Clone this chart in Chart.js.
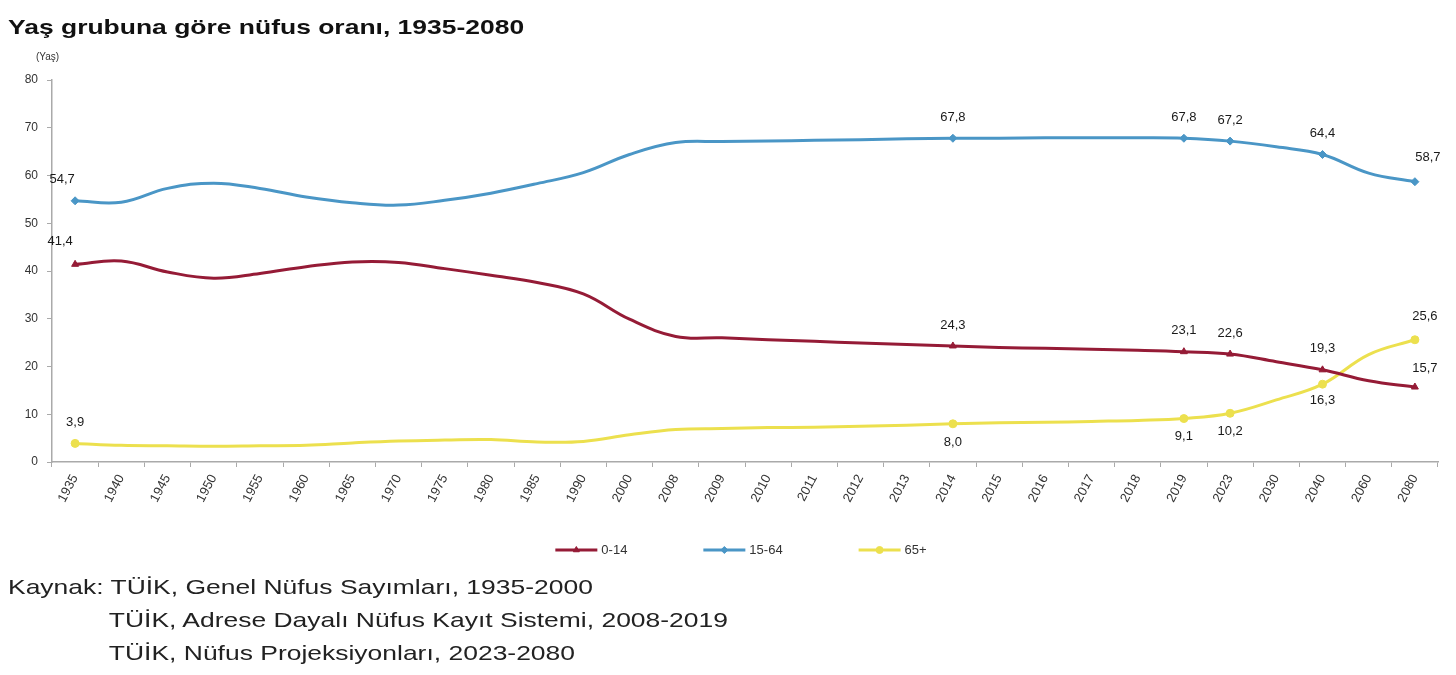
<!DOCTYPE html>
<html>
<head>
<meta charset="utf-8">
<script src="https://cdn.jsdelivr.net/npm/chart.js@4"></script>
<style>
    html, body { margin: 0; padding: 0; background: #fff; overflow: hidden; }
    body { width: 1456px; height: 675px; position: relative; font-family: "Liberation Sans", Arial, sans-serif; }
    #wrap { position: absolute; left: 0; top: 0; width: 1456px; height: 675px; }
    #title { position: absolute; left: 8px; top: 15px; font-size: 21px; font-weight: bold; color: #111; white-space: nowrap; transform: scaleX(1.26); transform-origin: left top; }
    #unit { position: absolute; left: 36px; top: 51px; font-size: 10px; color: #333; }
    #source { position: absolute; left: 8px; top: 570px; font-size: 21px; line-height: 33px; color: #222; white-space: nowrap; transform: scaleX(1.26); transform-origin: left top; }
    #source span { display: inline-block; width: 80px; }
</style>
</head>
<body>
<div id="wrap"><canvas id="chart"></canvas></div>
<div id="title">Yaş grubuna göre nüfus oranı, 1935-2080</div>
<div id="unit">(Yaş)</div>
<div id="source">Kaynak: TÜİK, Genel Nüfus Sayımları, 1935-2000<br><span></span>TÜİK, Adrese Dayalı Nüfus Kayıt Sistemi, 2008-2019<br><span></span>TÜİK, Nüfus Projeksiyonları, 2023-2080</div>
<script>
// yıllar
const years = ['1935', '1940', '1945', '1950', '1955', '1960', '1965', '1970', '1975', '1980',
    '1985', '1990', '2000', '2008', '2009', '2010', '2011', '2012', '2013', '2014',
    '2015', '2016', '2017', '2018', '2019', '2023', '2030', '2040', '2060', '2080'];

const age0to14 = [41.4, 42.1, 39.8, 38.5, 39.5, 40.9, 41.9, 41.8, 40.5, 39.1,
    37.6, 35.2, 29.9, 26.3, 26.0, 25.6, 25.3, 24.9, 24.6, 24.3,
    24.0, 23.8, 23.6, 23.4, 23.1, 22.6, 21.0, 19.3, 17.0, 15.7];

const age15to64 = [54.7, 54.4, 57.3, 58.4, 57.3, 55.5, 54.3, 53.8, 54.8, 56.3,
    58.3, 60.6, 64.4, 66.9, 67.1, 67.2, 67.4, 67.5, 67.7, 67.8,
    67.8, 67.9, 67.9, 67.9, 67.8, 67.2, 66.0, 64.4, 60.5, 58.7];

const age65plus = [3.9, 3.5, 3.4, 3.3, 3.4, 3.5, 4.0, 4.4, 4.6, 4.7,
    4.2, 4.3, 5.7, 6.8, 7.0, 7.2, 7.3, 7.5, 7.7, 8.0,
    8.2, 8.3, 8.5, 8.7, 9.1, 10.2, 13.0, 16.3, 22.5, 25.6];

// değeri yazılan yıllar
const labelledYears = ['1935', '2014', '2019', '2023', '2040', '2080'];

const seriesNames = ['0-14', '15-64', '65+'];
const colors = ['#951b36', '#4a96c6', '#ece04e'];
const markers = ['triangle', 'rectRot', 'circle'];

// etiket konumları (dx, dy), varsayılan: üstte
const labelOffsets = [
    { 0: [-15, -23], 29: [10, -19] },
    { 0: [-13, -21], 29: [13, -24] },
    { 19: [0, 19], 24: [0, 18], 25: [0, 18], 27: [0, 16], 29: [10, -23] }
];

const isLabelled = i => labelledYears.includes(years[i]);

function makeDataset(k, values) {
    return {
        label: seriesNames[k],
        data: values,
        borderColor: colors[k],
        backgroundColor: colors[k],
        borderWidth: 3,
        tension: 0.4,
        pointStyle: markers[k],
        pointRadius: ctx => isLabelled(ctx.dataIndex) ? 4 : 0,
        pointBorderWidth: 1,
        pointHoverRadius: 0,
        fill: false
    };
}

const valueLabels = {
    id: 'valueLabels',
    afterDatasetsDraw(chart) {
        const ctx = chart.ctx;
        ctx.save();
        ctx.font = '13px "Liberation Sans", Arial, sans-serif';
        ctx.fillStyle = '#1a1a1a';
        ctx.textAlign = 'center';
        ctx.textBaseline = 'middle';
        chart.data.datasets.forEach((ds, k) => {
            const meta = chart.getDatasetMeta(k);
            ds.data.forEach((v, i) => {
                if (!isLabelled(i)) return;
                const pt = meta.data[i];
                const off = labelOffsets[k][i] || [0, -21];
                ctx.fillText(v.toFixed(1).replace('.', ','), pt.x + off[0], pt.y + off[1]);
            });
        });
        ctx.restore();
    }
};

// alttaki açıklama
const lineLegend = {
    id: 'lineLegend',
    afterDraw(chart) {
        const ctx = chart.ctx;
        const area = chart.chartArea;
        ctx.save();
        ctx.font = '13px "Liberation Sans", Arial, sans-serif';
        ctx.textBaseline = 'middle';
        const iconW = 42, gap = 4, spacing = 76;
        const widths = seriesNames.map(n => iconW + gap + ctx.measureText(n).width);
        const total = widths.reduce((a, b) => a + b, 0) + spacing * (widths.length - 1);
        let x = (area.left + area.right) / 2 - 4 - total / 2;
        const y = area.bottom + 88;
        seriesNames.forEach((name, k) => {
            ctx.strokeStyle = colors[k];
            ctx.fillStyle = colors[k];
            ctx.lineWidth = 3;
            ctx.beginPath();
            ctx.moveTo(x, y);
            ctx.lineTo(x + iconW, y);
            ctx.stroke();
            ctx.lineWidth = 1;
            Chart.helpers.drawPoint(ctx, { pointStyle: markers[k], radius: 3.5, borderWidth: 1, rotation: 0 }, x + iconW / 2, y);
            ctx.fillStyle = '#333';
            ctx.fillText(name, x + iconW + gap, y);
            x += widths[k] + spacing;
        });
        ctx.restore();
    }
};

const tickFont = { family: '"Liberation Sans", Arial, sans-serif', size: 12 };

new Chart(document.getElementById('chart'), {
    type: 'line',
    data: {
        labels: years,
        datasets: [
            makeDataset(0, age0to14),
            makeDataset(1, age15to64),
            makeDataset(2, age65plus)
        ]
    },
    options: {
        responsive: true,
        maintainAspectRatio: false,
        animation: false,
        layout: { padding: { top: 80, right: 18, bottom: 143, left: 0 } },
        plugins: {
            legend: { display: false },
            tooltip: { enabled: false }
        },
        scales: {
            x: {
                offset: true,
                grid: { display: true, drawOnChartArea: false, drawTicks: true, tickLength: 5, color: '#aaa', offset: true },
                border: { display: true, color: '#aaa', width: 1.5 },
                ticks: { color: '#333', font: { family: tickFont.family, size: 13 }, minRotation: 62, maxRotation: 62, autoSkip: false, padding: 5 },
                afterFit(scale) { scale.height = 70; }
            },
            y: {
                min: 0,
                max: 80,
                grid: { display: true, drawOnChartArea: false, drawTicks: true, tickLength: 5, color: '#aaa' },
                border: { display: true, color: '#aaa', width: 1.5 },
                ticks: { stepSize: 10, color: '#333', font: tickFont, padding: 9 },
                afterFit(scale) { scale.width = 52; }
            }
        }
    },
    plugins: [valueLabels, lineLegend]
});
</script>
</body>
</html>
